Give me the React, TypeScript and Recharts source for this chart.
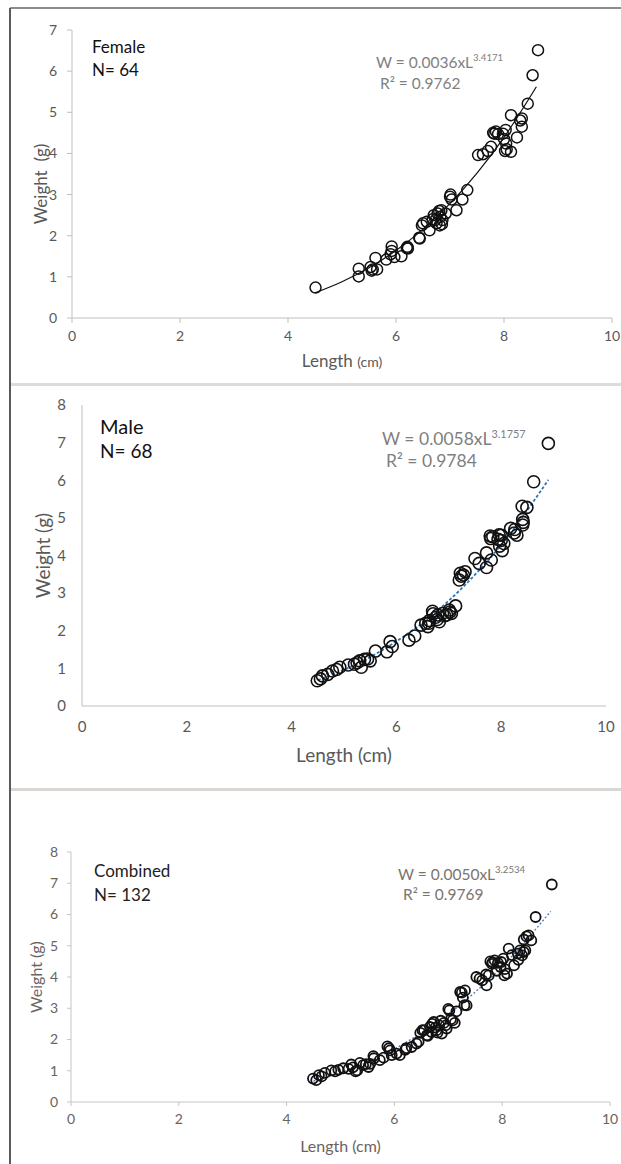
import React from "react";
import { ComposedChart, Scatter, Line, XAxis, YAxis, Label } from "recharts";

const FONT = "Lato, 'Open Sans', sans-serif";

// ticks
const xTicks = [0, 2, 4, 6, 8, 10];
const femaleYTicks = [0, 1, 2, 3, 4, 5, 6, 7];
const maleYTicks = [0, 1, 2, 3, 4, 5, 6, 7, 8];
const combinedYTicks = [0, 1, 2, 3, 4, 5, 6, 7, 8];

// Female (N = 64) — length (cm), weight (g)
const femaleLength = [
  4.51, 5.31, 5.31, 5.53, 5.57, 5.65, 5.62, 5.82, 5.92, 5.92, 5.97, 6.1, 6.21, 6.22, 6.43, 6.44,
  6.5, 6.62, 6.57, 6.7, 6.73, 6.77, 6.81, 6.82, 6.84, 6.86, 6.92, 7.01, 7.03, 7.12, 7.23, 7.32,
  7.52, 7.61, 7.7, 7.76, 7.82, 7.85, 7.89, 7.98, 8.03, 8.04, 8.02, 8.13, 8.13, 8.24, 8.33, 8.33,
  8.44, 8.53, 8.63, 5.55, 5.9, 6.2, 6.68, 6.75, 6.8, 6.85, 7.0, 7.8, 8.0, 8.05, 8.3, 6.48,
];
const femaleWeight = [
  0.74, 1.2, 1.01, 1.24, 1.18, 1.18, 1.46, 1.42, 1.74, 1.63, 1.48, 1.5, 1.73, 1.69, 1.95, 1.93,
  2.3, 2.13, 2.34, 2.5, 2.38, 2.54, 2.25, 2.46, 2.62, 2.38, 2.54, 3.0, 2.88, 2.62, 2.88, 3.11,
  3.96, 3.98, 4.06, 4.16, 4.48, 4.53, 4.47, 4.48, 4.57, 4.24, 4.06, 4.04, 4.93, 4.39, 4.85, 4.65,
  5.21, 5.9, 6.51, 1.15, 1.55, 1.7, 2.4, 2.3, 2.6, 2.28, 2.95, 4.5, 4.35, 4.1, 4.8, 2.25,
];
// fitted curve W = 0.0036xL^3.4171
const femaleTrendLength = [4.5, 5, 5.5, 6, 6.5, 7, 7.5, 8, 8.6];
const femaleTrendWeight = [0.61, 0.88, 1.22, 1.64, 2.16, 2.78, 3.52, 4.39, 5.62];

// Male (N = 68)
const maleLength = [
  4.49, 4.59, 4.69, 4.78, 4.86, 4.92, 5.08, 5.2, 5.3, 5.33, 5.39, 5.5, 5.6, 5.82, 5.88, 5.92,
  6.24, 6.35, 6.47, 6.56, 6.6, 6.63, 6.69, 6.75, 6.79, 6.82, 6.88, 6.96, 7.01, 7.05, 7.13, 7.2,
  7.22, 7.28, 7.31, 7.5, 7.58, 7.72, 7.72, 7.81, 7.79, 7.84, 7.94, 7.97, 8.0, 8.02, 8.05, 8.18,
  8.26, 8.3, 8.41, 8.41, 8.4, 8.49, 8.62, 8.9, 4.55, 5.25, 5.45, 6.62, 6.7, 6.78, 6.92, 7.02,
  7.24, 7.8, 7.96, 8.0, 8.25, 8.42,
];
const maleWeight = [
  0.67, 0.8, 0.84, 0.93, 0.97, 1.03, 1.09, 1.11, 1.2, 1.03, 1.24, 1.2, 1.46, 1.44, 1.71, 1.58,
  1.75, 1.86, 2.15, 2.2, 2.11, 2.27, 2.52, 2.36, 2.42, 2.24, 2.46, 2.42, 2.55, 2.46, 2.66, 3.35,
  3.53, 3.48, 3.57, 3.92, 3.79, 3.68, 4.07, 3.88, 4.52, 4.5, 4.43, 4.25, 4.54, 4.13, 4.32, 4.72,
  4.69, 4.54, 4.96, 4.81, 5.31, 5.28, 5.96, 6.98, 0.72, 1.15, 1.25, 2.2, 2.45, 2.3, 2.4, 2.5,
  3.45, 4.45, 4.55, 4.4, 4.6, 4.88,
];
const maleTrendLength = [4.5, 5, 5.5, 6, 6.5, 7, 7.5, 8, 8.9];
const maleTrendWeight = [0.69, 0.96, 1.3, 1.72, 2.21, 2.8, 3.49, 4.28, 6.01];

// Combined (N = 132)
const combinedLength = [
  4.49, 4.6, 4.71, 4.83, 4.96, 5.15, 5.23, 5.31, 5.36, 5.47, 5.52, 5.61, 5.73, 5.87, 5.92, 5.95,
  6.04, 6.2, 6.32, 6.41, 6.48, 6.55, 6.6, 6.66, 6.69, 6.73, 6.78, 6.83, 6.88, 6.92, 6.97, 7.02,
  7.08, 7.12, 7.22, 7.27, 7.31, 7.34, 7.52, 7.63, 7.71, 7.75, 7.81, 7.86, 7.92, 7.97, 8.02, 8.09,
  8.12, 8.22, 8.29, 8.37, 8.43, 8.49, 8.54, 8.62, 8.92, 4.55, 4.65, 4.9, 5.05, 5.2, 5.28, 5.42,
  5.55, 5.62, 5.8, 5.9, 6.1, 6.22, 6.45, 6.52, 6.62, 6.7, 6.76, 6.8, 6.86, 6.95, 7.05, 7.0,
  7.15, 7.25, 7.3, 7.58, 7.7, 7.78, 7.82, 7.9, 7.98, 8.04, 8.05, 8.18, 8.3, 8.33, 8.4, 8.45,
  8.4,
];
const combinedWeight = [
  0.75, 0.86, 0.93, 1.01, 1.03, 1.06, 1.11, 1.01, 1.25, 1.21, 1.12, 1.47, 1.34, 1.78, 1.65, 1.5,
  1.55, 1.67, 1.76, 1.87, 2.21, 2.29, 2.13, 2.4, 2.24, 2.56, 2.29, 2.45, 2.19, 2.53, 2.35, 2.93,
  2.61, 2.53, 3.52, 3.34, 3.57, 3.09, 4.0, 3.89, 3.73, 4.05, 4.42, 4.53, 4.45, 4.32, 4.59, 4.11,
  4.91, 4.37, 4.75, 4.69, 4.85, 5.33, 5.17, 5.92, 6.96, 0.7, 0.82, 0.98, 1.08, 1.2, 0.98, 1.18,
  1.22, 1.4, 1.42, 1.72, 1.5, 1.72, 1.93, 2.3, 2.12, 2.5, 2.38, 2.22, 2.6, 2.45, 2.65, 2.98,
  2.9, 3.5, 3.1, 3.95, 4.08, 4.5, 4.47, 4.2, 4.48, 4.05, 4.25, 4.7, 4.55, 4.85, 5.2, 5.3,
  4.8,
];
const combinedTrendLength = [4.5, 5, 5.5, 6, 6.5, 7, 7.5, 8, 8.9];
const combinedTrendWeight = [0.67, 0.94, 1.28, 1.7, 2.21, 2.81, 3.52, 4.34, 6.1];

const toPoints = (xs: number[], ys: number[]) => xs.map((x, i) => ({ x, y: ys[i] }));

type PanelProps = {
  top: number;
  height: number;
  margin: { top: number; right: number; left: number; bottom: number };
  yWidth: number;
  xHeight: number;
  yMax: number;
  yTicks: number[];
  points: { x: number; y: number }[];
  trend: { x: number; y: number }[];
  trendStyle: { stroke: string; strokeWidth: number; strokeDasharray?: string };
  radius: number;
  ringWidth: number;
  axisColor: string;
  textColor: string;
  tickFont: number;
  tickSize: number;
  yTickMargin: number;
  xTickMargin: number;
  yTitle: { text: string; cx: number; shift: number; size: number };
  xTitle: { base: number; size: number; smallSize?: number };
};

function Panel(p: PanelProps) {
  const ring = (props: { cx?: number; cy?: number }) => (
    <circle cx={props.cx} cy={props.cy} r={p.radius} fill="none" stroke="#111" strokeWidth={p.ringWidth} />
  );
  const tick = { fill: p.textColor, fontSize: p.tickFont, fontFamily: FONT };
  return (
    <div style={{ position: "absolute", left: 0, top: p.top }}>
      <ComposedChart width={621} height={p.height} margin={p.margin}>
        <XAxis
          type="number"
          dataKey="x"
          domain={[0, 10]}
          ticks={xTicks}
          interval={0}
          height={p.xHeight}
          stroke={p.axisColor}
          tickLine={p.tickSize > 0}
          tickSize={p.tickSize}
          tickMargin={p.xTickMargin}
          tick={tick}
        >
          <Label
            content={(lp: any) => {
              const vb = lp.viewBox;
              return (
                <text
                  x={vb.x + vb.width / 2}
                  y={vb.y + p.xTitle.base}
                  textAnchor="middle"
                  fill={p.textColor}
                  fontFamily={FONT}
                  fontSize={p.xTitle.size}
                >
                  Length{" "}
                  <tspan fontSize={p.xTitle.smallSize ?? p.xTitle.size}>(cm)</tspan>
                </text>
              );
            }}
          />
        </XAxis>
        <YAxis
          type="number"
          dataKey="y"
          domain={[0, p.yMax]}
          ticks={p.yTicks}
          interval={0}
          width={p.yWidth}
          stroke={p.axisColor}
          tickLine={p.tickSize > 0}
          tickSize={p.tickSize}
          tickMargin={p.yTickMargin}
          tick={tick}
        >
          <Label
            content={(lp: any) => {
              const vb = lp.viewBox;
              const cx = vb.x + p.yTitle.cx;
              const cy = vb.y + vb.height / 2 + p.yTitle.shift;
              return (
                <text
                  x={cx}
                  y={cy}
                  transform={`rotate(-90, ${cx}, ${cy})`}
                  textAnchor="middle"
                  dominantBaseline="central"
                  fill={p.textColor}
                  fontFamily={FONT}
                  fontSize={p.yTitle.size}
                >
                  {p.yTitle.text}
                </text>
              );
            }}
          />
        </YAxis>
        <Line
          data={p.trend}
          dataKey="y"
          type="monotone"
          dot={false}
          activeDot={false}
          stroke={p.trendStyle.stroke}
          strokeWidth={p.trendStyle.strokeWidth}
          strokeDasharray={p.trendStyle.strokeDasharray}
          isAnimationActive={false}
        />
        <Scatter data={p.points} dataKey="y" shape={ring} isAnimationActive={false} />
      </ComposedChart>
    </div>
  );
}

type Note = { x: number; y: number; size: number; color: string; main: string; sup?: string };

function Notes({ items }: { items: Note[] }) {
  return (
    <svg width={621} height={1164} style={{ position: "absolute", left: 0, top: 0, pointerEvents: "none" }}>
      {items.map((n, i) => (
        <text key={i} x={n.x} y={n.y} fill={n.color} fontFamily={FONT} fontSize={n.size}>
          {n.main}
          {n.sup && (
            <tspan fontSize={n.size * 0.62} dy={-n.size * 0.42}>
              {n.sup}
            </tspan>
          )}
        </text>
      ))}
    </svg>
  );
}

export default function App() {
  const notes: Note[] = [
    { x: 92, y: 53, size: 17, color: "#111", main: "Female" },
    { x: 92, y: 76, size: 17, color: "#111", main: "N= 64" },
    { x: 376, y: 68, size: 15.5, color: "#7f7f7f", main: "W = 0.0036xL", sup: "3.4171" },
    { x: 380, y: 89, size: 15.5, color: "#7f7f7f", main: "R² = 0.9762" },
    { x: 100, y: 434, size: 20, color: "#111", main: "Male" },
    { x: 100, y: 458, size: 19, color: "#111", main: "N= 68" },
    { x: 382, y: 445, size: 17.5, color: "#7f7f7f", main: "W = 0.0058xL", sup: "3.1757" },
    { x: 386, y: 467, size: 17.5, color: "#7f7f7f", main: "R² = 0.9784" },
    { x: 94, y: 877, size: 17, color: "#222", main: "Combined" },
    { x: 94, y: 901, size: 17, color: "#222", main: "N= 132" },
    { x: 398, y: 880, size: 15.5, color: "#7a7470", main: "W = 0.0050xL", sup: "3.2534" },
    { x: 403, y: 900, size: 15.5, color: "#7a7470", main: "R² = 0.9769" },
  ];

  return (
    <div style={{ position: "absolute", left: 0, top: 0, width: 621, height: 1164, background: "#fff", overflow: "hidden" }}>
      {/* frame + dividers */}
      <div style={{ position: "absolute", left: 10, top: 7, width: 611, height: 2, background: "#8c8c8c" }} />
      <div style={{ position: "absolute", left: 9, top: 8, width: 2, height: 1156, background: "#5a5a5a" }} />
      <div style={{ position: "absolute", left: 11, top: 383, width: 610, height: 3, background: "#dcdcdc" }} />
      <div style={{ position: "absolute", left: 11, top: 788, width: 610, height: 3, background: "#dad6d3" }} />

      <Panel
        top={0}
        height={380}
        margin={{ top: 30, right: 9, left: 0, bottom: 0 }}
        yWidth={72}
        xHeight={62}
        yMax={7}
        yTicks={femaleYTicks}
        points={toPoints(femaleLength, femaleWeight)}
        trend={toPoints(femaleTrendLength, femaleTrendWeight)}
        trendStyle={{ stroke: "#111", strokeWidth: 1.2 }}
        radius={5.5}
        ringWidth={1.5}
        axisColor="#bfbfbf"
        textColor="#595959"
        tickFont={14}
        tickSize={5}
        yTickMargin={10}
        xTickMargin={8}
        yTitle={{ text: "Weight\u00a0 (g)", cx: 40, shift: 10, size: 17 }}
        xTitle={{ base: 49, size: 17, smallSize: 14 }}
      />
      <Panel
        top={384}
        height={400}
        margin={{ top: 21, right: 15, left: 0, bottom: 0 }}
        yWidth={82}
        xHeight={78}
        yMax={8}
        yTicks={maleYTicks}
        points={toPoints(maleLength, maleWeight)}
        trend={toPoints(maleTrendLength, maleTrendWeight)}
        trendStyle={{ stroke: "#2e75b6", strokeWidth: 1.8, strokeDasharray: "3 2" }}
        radius={6}
        ringWidth={1.6}
        axisColor="#bfbfbf"
        textColor="#595959"
        tickFont={15}
        tickSize={0}
        yTickMargin={16}
        xTickMargin={15}
        yTitle={{ text: "Weight (g)", cx: 42, shift: 0, size: 19 }}
        xTitle={{ base: 56, size: 19 }}
      />
      <Panel
        top={789}
        height={375}
        margin={{ top: 63, right: 11, left: 0, bottom: 0 }}
        yWidth={71}
        xHeight={62}
        yMax={8}
        yTicks={combinedYTicks}
        points={toPoints(combinedLength, combinedWeight)}
        trend={toPoints(combinedTrendLength, combinedTrendWeight)}
        trendStyle={{ stroke: "#4f81bd", strokeWidth: 1.4, strokeDasharray: "2 2" }}
        radius={5}
        ringWidth={1.8}
        axisColor="#cbc3c0"
        textColor="#6b6360"
        tickFont={14}
        tickSize={4}
        yTickMargin={9}
        xTickMargin={8}
        yTitle={{ text: "Weight (g)", cx: 35, shift: 0, size: 16 }}
        xTitle={{ base: 50, size: 16 }}
      />

      <Notes items={notes} />
    </div>
  );
}
